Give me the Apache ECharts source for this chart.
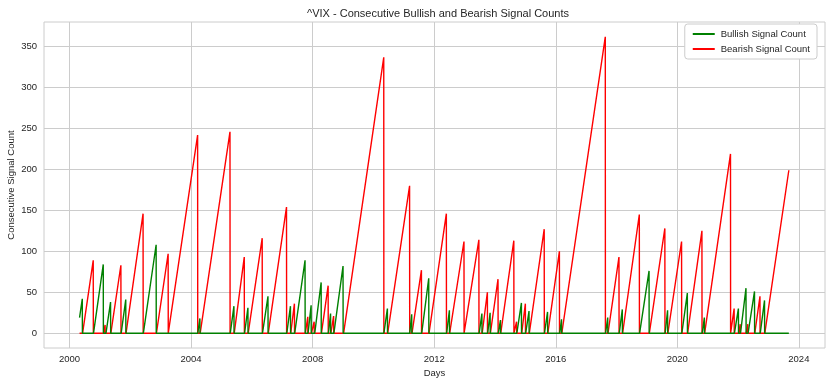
<!DOCTYPE html>
<html><head><meta charset="utf-8">
<script src="https://cdn.jsdelivr.net/npm/echarts@6/dist/echarts.min.js"></script>
<style>html,body{margin:0;padding:0;background:#fff}#c{width:832px;height:384px}</style>
</head><body><div id="c"></div>
<script>
// time is in decimal years
const dataStart = 2000.33;
const dataEnd = 2023.67;

// Bullish runs: start, end (peak day), peak count
const bullFirstValue = 19;
const bullStart = [2000.33, 2000.79, 2001.20, 2001.70, 2002.43, 2004.22, 2005.29, 2005.76, 2006.35, 2007.15,
  2007.41, 2007.85, 2008.07, 2008.52, 2008.70, 2010.345, 2011.195, 2011.59, 2012.41, 2013.48,
  2013.76, 2014.11, 2014.72, 2015.01, 2015.63, 2016.13, 2017.64, 2018.09, 2018.76, 2019.60,
  2020.15, 2020.82, 2021.88, 2022.08, 2022.33, 2022.73];
const bullEnd = [2000.42, 2001.11, 2001.35, 2001.85, 2002.85, 2004.29, 2005.41, 2005.87, 2006.53, 2007.27,
  2007.75, 2007.95, 2008.28, 2008.59, 2009.00, 2010.46, 2011.26, 2011.82, 2012.50, 2013.57,
  2013.84, 2014.18, 2014.87, 2015.12, 2015.73, 2016.19, 2017.71, 2018.19, 2019.07, 2019.68,
  2020.33, 2020.89, 2022.01, 2022.26, 2022.54, 2022.87];
const bullPeak = [42, 84, 38, 41, 108, 18, 33, 31, 45, 33,
  89, 34, 62, 24, 82, 30, 23, 67, 28, 24,
  25, 16, 37, 27, 26, 17, 19, 29, 76, 28,
  49, 19, 30, 55, 51, 40];

// Bearish runs
const bearStart = [2000.43, 2001.12, 2001.36, 2001.86, 2002.86, 2003.26, 2004.30, 2005.42, 2005.88, 2006.54,
  2007.28, 2007.76, 2007.96, 2008.29, 2008.60, 2009.02, 2010.47, 2011.27, 2011.83, 2012.51,
  2013.04, 2013.58, 2013.85, 2014.19, 2014.64, 2014.88, 2015.13, 2015.74, 2016.20, 2017.72,
  2018.20, 2019.08, 2019.69, 2020.34, 2020.90, 2021.76, 2022.02, 2022.27, 2022.55, 2022.88];
const bearEnd = [2000.78, 2001.17, 2001.69, 2002.42, 2003.245, 2004.215, 2005.28, 2005.75, 2006.34, 2007.14,
  2007.40, 2007.84, 2008.05, 2008.51, 2008.69, 2010.34, 2011.19, 2011.58, 2012.40, 2012.98,
  2013.47, 2013.75, 2014.10, 2014.62, 2014.71, 2015.00, 2015.62, 2016.12, 2017.63, 2018.08,
  2018.75, 2019.59, 2020.14, 2020.81, 2021.75, 2021.87, 2022.07, 2022.32, 2022.72, 2023.67];
const bearPeak = [89, 10, 83, 146, 97, 242, 246, 93, 116, 154,
  36, 20, 14, 58, 21, 337, 180, 77, 146, 112,
  114, 50, 66, 113, 14, 36, 127, 100, 362, 93,
  145, 128, 112, 125, 219, 30, 11, 11, 45, 199];

const xTicks = [2000, 2004, 2008, 2012, 2016, 2020, 2024];
const yTicks = [0, 50, 100, 150, 200, 250, 300, 350];

const oneDay = 0.004;
function build(starts, ends, peaks, firstValue) {
  const pts = [];
  if (starts[0] > dataStart) pts.push([dataStart, 0]);
  for (let i = 0; i < starts.length; i++) {
    const sv = (i === 0 && firstValue != null) ? firstValue : 0;
    pts.push([starts[i], sv]);
    pts.push([ends[i], peaks[i]]);
    if (ends[i] < dataEnd) pts.push([ends[i] + oneDay, 0]);
  }
  if (ends[ends.length - 1] < dataEnd) pts.push([dataEnd, 0]);
  return pts;
}

const font = "'Liberation Sans', Arial, sans-serif";
const txt = '#262626';
const chart = echarts.init(document.getElementById('c'), null, {renderer: 'canvas'});
chart.setOption({
  animation: false,
  backgroundColor: '#fff',
  textStyle: {fontFamily: font},
  title: {
    text: '^VIX - Consecutive Bullish and Bearish Signal Counts',
    left: 433, top: 3, textAlign: 'center',
    textStyle: {fontFamily: font, fontSize: 11, fontWeight: 'normal', color: txt}
  },
  grid: {left: 44, right: 7, top: 22, bottom: 36, show: true, borderColor: '#cccccc', borderWidth: 1,
    backgroundColor: 'transparent', containLabel: false, outerBoundsMode: 'none'},
  legend: {
    orient: 'vertical', right: 15, top: 24,
    backgroundColor: '#fff', borderColor: '#cccccc', borderWidth: 1, borderRadius: 3,
    padding: [5, 7, 5, 8], itemGap: 5, itemWidth: 22, itemHeight: 2,
    icon: 'rect',
    textStyle: {fontFamily: font, fontSize: 9.5, color: txt, padding: [0, 0, 0, 1]},
    data: ['Bullish Signal Count', 'Bearish Signal Count']
  },
  xAxis: {
    type: 'value', min: 1999.16, max: 2024.86,
    name: 'Days', nameLocation: 'middle', nameGap: 20, nameMoveOverlap: false,
    nameTextStyle: {fontFamily: font, fontSize: 9.5, color: txt},
    axisLine: {show: false}, axisTick: {show: false, customValues: xTicks},
    axisLabel: {customValues: xTicks, color: txt, fontSize: 9.5, fontFamily: font, margin: 6, formatter: v => String(Math.round(v))},
    splitLine: {show: true, lineStyle: {color: '#cccccc', width: 1}}
  },
  yAxis: {
    type: 'value', min: -18.1, max: 380.1,
    name: 'Consecutive Signal Count', nameLocation: 'middle', nameGap: 28, nameRotate: 90, nameMoveOverlap: false,
    nameTextStyle: {fontFamily: font, fontSize: 9.5, color: txt},
    axisLine: {show: false}, axisTick: {show: false, customValues: yTicks},
    axisLabel: {customValues: yTicks, color: txt, fontSize: 9.5, fontFamily: font, margin: 7},
    splitLine: {show: true, lineStyle: {color: '#cccccc', width: 1}}
  },
  series: [
    {name: 'Bullish Signal Count', type: 'line', showSymbol: false, symbol: 'none', z: 3,
     color: '#008000', lineStyle: {color: '#008000', width: 1.4}, data: build(bullStart, bullEnd, bullPeak, bullFirstValue)},
    {name: 'Bearish Signal Count', type: 'line', showSymbol: false, symbol: 'none', z: 2,
     color: '#ff0000', lineStyle: {color: '#ff0000', width: 1.4}, data: build(bearStart, bearEnd, bearPeak, null)}
  ]
});
</script></body></html>
